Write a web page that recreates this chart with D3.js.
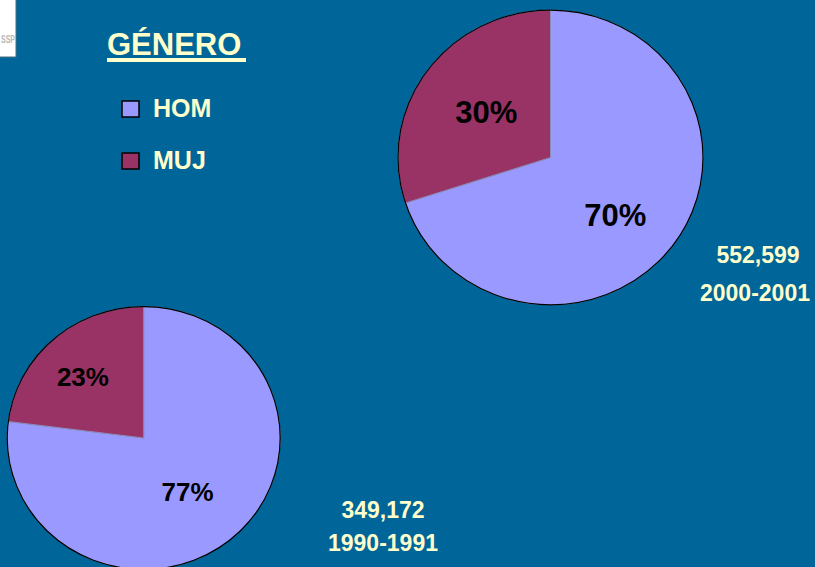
<!DOCTYPE html>
<html>
<head>
<meta charset="utf-8">
<script src="https://cdn.jsdelivr.net/npm/d3@7"></script>
<style>
  html, body { margin: 0; padding: 0; background: #006699; }
  svg { display: block; font-family: Arial, "Liberation Sans", sans-serif; }
</style>
</head>
<body>
<svg id="chart" width="815" height="567"></svg>
<script>
// values
const categories = ["HOM", "MUJ"];
const periods = ["1990-1991", "2000-2001"];
const totals = [349172, 552599];
const homPct = [77, 70];
const mujPct = [23, 30];

const colors = ["#9999ff", "#993366"];
const cream = "#ffffcc";

const W = 815, H = 567;
const svg = d3.select("#chart");

svg.append("rect").attr("width", W).attr("height", H).attr("fill", "#006699");

// little logo stub at top-left
svg.append("rect").attr("x", -1).attr("y", -1).attr("width", 17).attr("height", 58)
    .attr("fill", "#ffffff").attr("stroke", "#4d6f85").attr("stroke-width", 1);
svg.append("text").attr("x", 1).attr("y", 43)
    .attr("font-size", 11).attr("font-weight", "bold").attr("fill", "#b8b8b8")
    .attr("textLength", 14).attr("lengthAdjust", "spacingAndGlyphs")
    .text("SSP");

// one layout per period (positions, not data)
const layout = [
    { cx: 143.7, cy: 438, r: 136.5, ratio: 0.963, fontSize: 26,
      labelK: [0.52, 0.64], nudge: [[-3, 2], [-3, 2]],
      totalX: 383, totalY: 518, periodX: 383, periodY: 551 },
    { cx: 550.5, cy: 157.5, r: 152.5, ratio: 0.966, fontSize: 31,
      labelK: [0.55, 0.52], nudge: [[-3, 10], [0, -1]],
      totalX: 758, totalY: 263, periodX: 755, periodY: 301 }
];

const pie = d3.pie().sort(null).value(d => d.value);

periods.forEach((p, i) => {
    const L = layout[i];
    const values = [homPct[i], mujPct[i]].map((v, j) => ({ cat: categories[j], value: v }));
    const arcs = pie(values);
    const arc = d3.arc().innerRadius(0).outerRadius(L.r);

    const g = svg.append("g").attr("transform", `translate(${L.cx},${L.cy})`);
    const sg = g.append("g").attr("transform", `scale(1,${L.ratio})`);

    sg.selectAll("path.slice")
        .data(arcs)
        .join("path")
        .attr("class", "slice")
        .attr("d", arc)
        .attr("fill", (d, j) => colors[j])
        .attr("stroke", "#8c8cb8")
        .attr("stroke-width", 1)
        .attr("vector-effect", "non-scaling-stroke");

    sg.append("circle").attr("r", L.r)
        .attr("fill", "none").attr("stroke", "#000").attr("stroke-width", 1.2)
        .attr("vector-effect", "non-scaling-stroke");

    g.selectAll("text.pct")
        .data(arcs)
        .join("text")
        .attr("class", "pct")
        .attr("transform", (d, j) => {
            const k = L.labelK[j] * L.r;
            const c = d3.arc().innerRadius(k).outerRadius(k).centroid(d);
            return `translate(${c[0] + L.nudge[j][0]},${c[1] * L.ratio + L.nudge[j][1]})`;
        })
        .attr("text-anchor", "middle")
        .attr("dy", "0.36em")
        .attr("font-size", L.fontSize)
        .attr("font-weight", "bold")
        .attr("fill", "#000")
        .text(d => d.value + "%");

    svg.append("text")
        .attr("x", L.totalX).attr("y", L.totalY)
        .attr("text-anchor", "middle")
        .attr("font-size", 23).attr("font-weight", "bold").attr("fill", cream)
        .text(d3.format(",")(totals[i]));

    svg.append("text")
        .attr("x", L.periodX).attr("y", L.periodY)
        .attr("text-anchor", "middle")
        .attr("font-size", 23).attr("font-weight", "bold").attr("fill", cream)
        .text(p);
});

// legend
svg.append("text")
    .attr("x", 107).attr("y", 55)
    .attr("font-size", 31).attr("font-weight", "bold").attr("fill", cream)
    .text("GÉNERO");
svg.append("rect").attr("x", 107).attr("y", 58).attr("width", 139).attr("height", 4)
    .attr("fill", cream);

const leg = svg.selectAll("g.leg")
    .data(categories)
    .join("g")
    .attr("class", "leg")
    .attr("transform", (d, j) => `translate(122,${101 + j * 52})`);

leg.append("rect")
    .attr("width", 17).attr("height", 16)
    .attr("fill", (d, j) => colors[j])
    .attr("stroke", "#000").attr("stroke-width", 1.5);

leg.append("text")
    .attr("x", 31).attr("y", 16)
    .attr("font-size", 25).attr("font-weight", "bold").attr("fill", cream)
    .text(d => d);
</script>
</body>
</html>
